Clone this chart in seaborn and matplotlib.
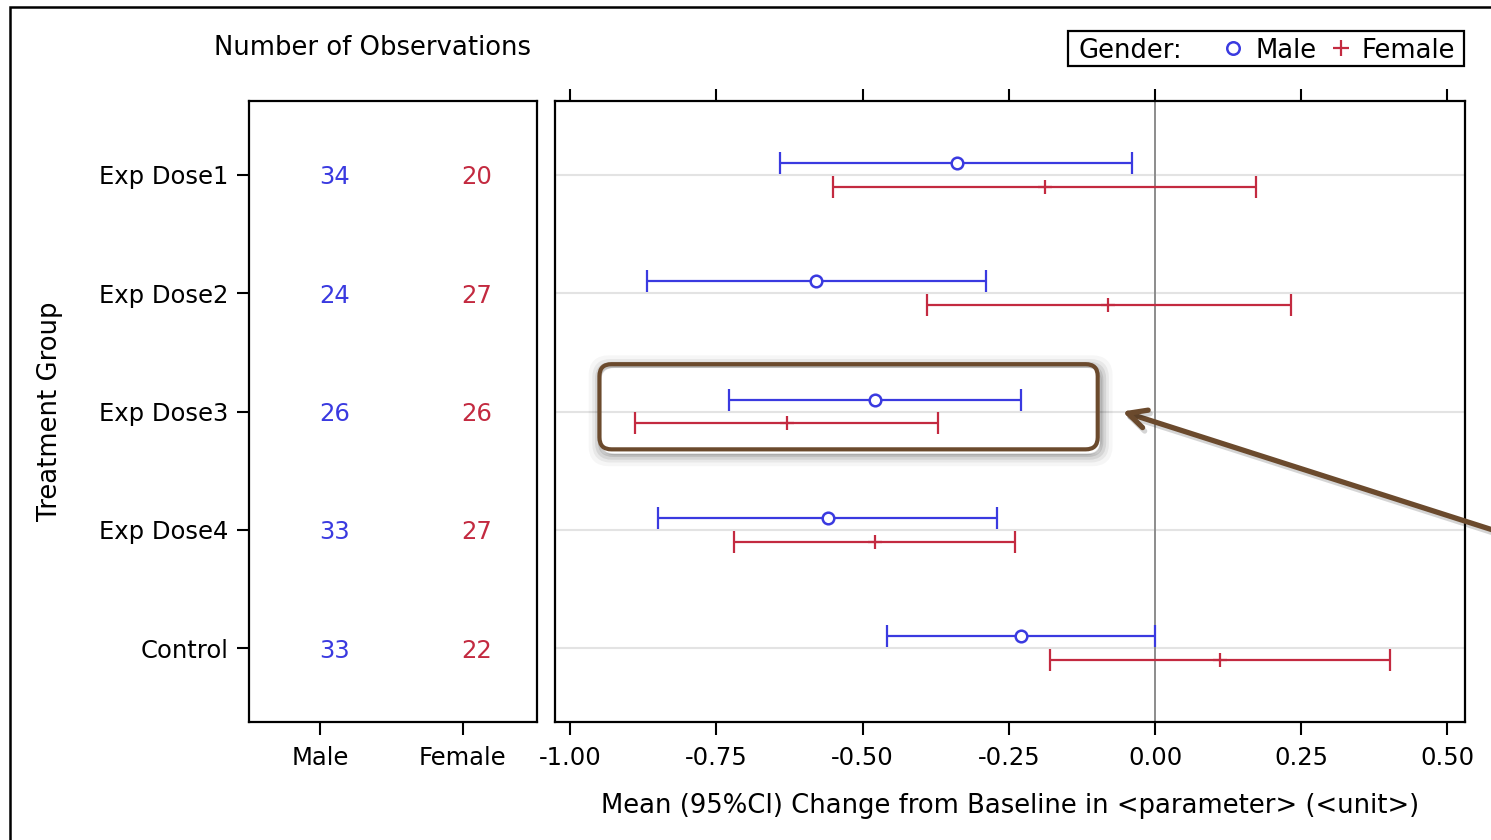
import numpy as np
import pandas as pd
import matplotlib
matplotlib.use("Agg")
import matplotlib.pyplot as plt
import seaborn as sns
from matplotlib.patches import FancyBboxPatch, Rectangle
from matplotlib.lines import Line2D
from matplotlib.transforms import IdentityTransform
import matplotlib.patheffects as pe

# ---- data -------------------------------------------------------------
groups = ["Exp Dose1", "Exp Dose2", "Exp Dose3", "Exp Dose4", "Control"]

male_n = [34, 24, 26, 33, 33]
female_n = [20, 27, 26, 27, 22]

male_mean = [-0.338, -0.579, -0.479, -0.559, -0.229]
male_low = [-0.641, -0.868, -0.728, -0.850, -0.458]
male_high = [-0.039, -0.289, -0.229, -0.270, 0.000]

female_mean = [-0.188, -0.080, -0.629, -0.479, 0.111]
female_low = [-0.550, -0.390, -0.889, -0.720, -0.179]
female_high = [0.173, 0.232, -0.371, -0.239, 0.402]

x_ticks = [-1.00, -0.75, -0.50, -0.25, 0.00, 0.25, 0.50]
count_cols = ["Male", "Female"]

BLUE = "#3a3ae0"
RED = "#c32a40"
BROWN = "#6b4a2d"

# ---- style ------------------------------------------------------------
sns.set_theme(style="white")
plt.rcParams["font.family"] = ["DejaVu Sans"]
plt.rcParams["axes.edgecolor"] = "black"
plt.rcParams["text.color"] = "black"
plt.rcParams["axes.labelcolor"] = "black"
FS = 17.5      # tick labels and counts
FL = 18.6      # titles, axis labels, legend

W, H = 1491, 840
fig = plt.figure(figsize=(W / 100, H / 100), dpi=100)
fig.patch.set_facecolor("white")


def fx(px):
    return px / W


def fy(py):
    return 1 - py / H


def px_axes(x0, y0, x1, y1):
    return fig.add_axes([fx(x0), fy(y1), (x1 - x0) / W, (y1 - y0) / H])


ax_n = px_axes(249, 101, 537, 722)
ax = px_axes(555, 101, 1465, 722)

rows = []
for i, g in enumerate(groups):
    rows.append(dict(group=g, gender="Male", mean=male_mean[i], low=male_low[i],
                     high=male_high[i], y=i - 0.1))
    rows.append(dict(group=g, gender="Female", mean=female_mean[i], low=female_low[i],
                     high=female_high[i], y=i + 0.1))
df = pd.DataFrame(rows)

# ---- counts panel -----------------------------------------------------
for i in range(len(groups)):
    ax_n.text(0.1, i, str(male_n[i]), color=BLUE, fontsize=FS, ha="center",
              va="center_baseline")
    ax_n.text(1.1, i, str(female_n[i]), color=RED, fontsize=FS, ha="center",
              va="center_baseline")
ax_n.set_xlim(-0.5, 1.52)
ax_n.set_ylim(len(groups) - 0.375, -0.625)
ax_n.set_xticks([0, 1])
ax_n.set_xticklabels(count_cols)
ax_n.set_yticks(range(len(groups)))
ax_n.set_yticklabels(groups)
ax_n.set_ylabel("Treatment Group", fontsize=FL)
ax_n.yaxis.set_label_coords((63 - 249) / 288, 0.5)
ax_n.tick_params(axis="both", labelsize=FS, length=9, width=1.5, colors="black",
                 left=True, bottom=True, pad=6)
ax_n.tick_params(axis="x", pad=8)
for s in ax_n.spines.values():
    s.set_linewidth(1.6)

fig.text(fx(372), fy(48), "Number of Observations", fontsize=FL,
         ha="center", va="center")

# ---- forest panel -----------------------------------------------------
for i in range(len(groups)):
    ax.axhline(i, color="#e3e3e3", lw=1.5, zorder=0)
ax.axvline(0, color="#8c8c8c", lw=1.4, zorder=1)

male = df[df.gender == "Male"]
female = df[df.gender == "Female"]
ax.errorbar(male["mean"], male["y"],
            xerr=[male["mean"] - male["low"], male["high"] - male["mean"]],
            fmt="none", ecolor=BLUE, elinewidth=1.6, capsize=8, capthick=1.6, zorder=3)
ax.errorbar(female["mean"], female["y"],
            xerr=[female["mean"] - female["low"], female["high"] - female["mean"]],
            fmt="none", ecolor=RED, elinewidth=1.6, capsize=8, capthick=1.6, zorder=3)
sns.scatterplot(data=male, x="mean", y="y", marker="o", s=70, facecolor="white",
                edgecolor=BLUE, linewidth=1.8, ax=ax, zorder=4, legend=False)
sns.scatterplot(data=female, x="mean", y="y", marker="+", s=110, color=RED,
                linewidth=1.6, ax=ax, zorder=4, legend=False)

ax.set_xlim(-1.026, 0.530)
ax.set_ylim(len(groups) - 0.375, -0.625)
ax.set_xticks(x_ticks)
ax.set_xticklabels([f"{t:.2f}" for t in x_ticks])
ax.set_yticks([])
ax.set_ylabel("")
ax.set_xlabel("Mean (95%CI) Change from Baseline in <parameter> (<unit>)",
              fontsize=FL, labelpad=17)
ax.tick_params(axis="x", labelsize=FS, length=9, width=1.5, colors="black",
               bottom=True, top=True, pad=8)
for s in ax.spines.values():
    s.set_linewidth(1.6)

# ---- legend -----------------------------------------------------------
fig.patches.append(Rectangle((fx(1068), fy(66)), (1464 - 1068) / W, 35 / H,
                             transform=fig.transFigure, fill=False,
                             edgecolor="black", lw=1.6, zorder=10))
ly = fy(48)
fig.text(fx(1078), ly, "Gender:", fontsize=FL, ha="left", va="center_baseline")
fig.add_artist(Line2D([fx(1233)], [ly], linestyle="none", marker="o", markersize=9,
                      markerfacecolor="none", markeredgecolor=BLUE,
                      markeredgewidth=1.8, transform=fig.transFigure))
fig.text(fx(1255), ly, "Male", fontsize=FL, ha="left", va="center_baseline")
fig.add_artist(Line2D([fx(1341)], [ly], linestyle="none", marker="+", markersize=12,
                      color=RED, markeredgewidth=1.6, transform=fig.transFigure))
fig.text(fx(1362), ly, "Female", fontsize=FL, ha="left", va="center_baseline")

# ---- highlight box and arrow -----------------------------------------
box_x = (-0.95, -0.098)
box_y = (1.60, 2.32)
(bx0, by0) = ax.transData.transform((box_x[0], box_y[1]))
(bx1, by1) = ax.transData.transform((box_x[1], box_y[0]))
for k, a in [(14, 0.035), (10, 0.055), (7, 0.08), (4, 0.10), (2, 0.12)]:
    sh = FancyBboxPatch((bx0 - k / 2 + 2, by0 - k / 2 - 4), bx1 - bx0 + k, by1 - by0 + k,
                        boxstyle="round,pad=0,rounding_size=14", transform=IdentityTransform(),
                        facecolor="none", edgecolor="black", lw=k * 0.6, alpha=a, zorder=5)
    fig.patches.append(sh)
hb = FancyBboxPatch((bx0, by0), bx1 - bx0, by1 - by0,
                    boxstyle="round,pad=0,rounding_size=12", transform=IdentityTransform(),
                    facecolor="none", edgecolor=BROWN, lw=3.0, zorder=6)
fig.patches.append(hb)

arr = ax.annotate("", xy=(-0.056, 2.0), xytext=(0.76, 3.29),
                  arrowprops=dict(arrowstyle="->,head_length=1.1,head_width=0.55",
                                  color=BROWN, lw=3.8, shrinkA=0, shrinkB=0),
                  annotation_clip=False, zorder=7)
arr.arrow_patch.set_path_effects([pe.SimpleLineShadow(offset=(1.5, -2.5), alpha=0.18),
                                  pe.Normal()])

# ---- outer frame ------------------------------------------------------
fig.patches.append(Rectangle((fx(10), -0.2), 1.2, 1 - 7 / H + 0.2,
                             transform=fig.transFigure, fill=False,
                             edgecolor="black", lw=1.8, zorder=10))

fig.savefig("out.png", dpi=100, facecolor="white")
